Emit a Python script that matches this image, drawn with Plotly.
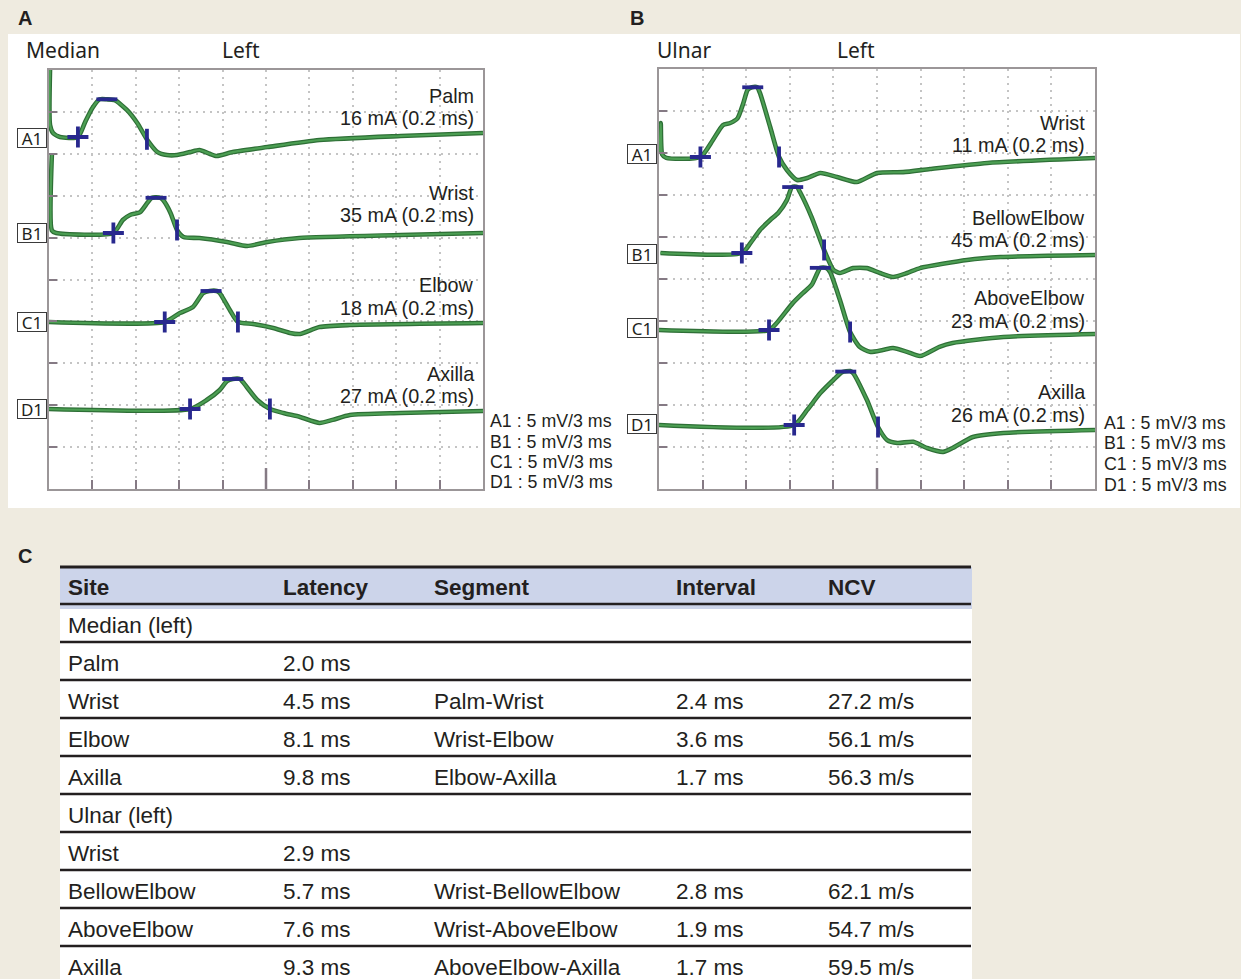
import numpy as np
import plotly.graph_objects as go

# ---------------------------------------------------------------- data
channels = ["A1", "B1", "C1", "D1"]

median_sites = ["Palm", "Wrist", "Elbow", "Axilla"]
median_stim = ["16 mA (0.2 ms)", "35 mA (0.2 ms)", "18 mA (0.2 ms)", "27 mA (0.2 ms)"]
ulnar_sites = ["Wrist", "BellowElbow", "AboveElbow", "Axilla"]
ulnar_stim = ["11 mA (0.2 ms)", "45 mA (0.2 ms)", "23 mA (0.2 ms)", "26 mA (0.2 ms)"]
scale_labels = ["A1 : 5 mV/3 ms", "B1 : 5 mV/3 ms", "C1 : 5 mV/3 ms", "D1 : 5 mV/3 ms"]

# time (ms) / amplitude relative to baseline (mV)
median_A1_t = [0.07, 0.07, 0.28, 0.76, 2.0, 2.5, 3.0, 3.5, 4.0, 4.55, 5.4, 6.1, 6.8, 7.5, 8.15,
               8.85, 9.75, 10.4, 11.1, 11.6, 12.7, 15.1, 18.7, 24.3, 30.0]
median_A1_v = [8.0, 1.43, 0.48, 0.0, 0.0, 1.8, 3.46, 4.5, 4.5, 4.4, 3.2, 1.67, -0.36, -1.8, -2.15,
               -2.15, -1.8, -1.55, -2.0, -2.27, -1.8, -1.2, -0.36, 0.12, 0.48]
median_B1_t = [0.2, 0.2, 0.5, 4.45, 5.1, 5.6, 6.3, 6.8, 7.1, 7.7, 7.9, 8.4, 8.85, 9.3, 10.4,
               12.3, 13.7, 15.1, 17.3, 24.3, 30.0]
median_B1_v = [9.5, 0.3, 0.0, 0.0, 1.55, 2.15, 2.5, 3.6, 4.2, 4.2, 3.9, 2.4, 0.36, -0.48, -0.6,
               -1.07, -1.55, -1.07, -0.6, -0.24, 0.0]
median_C1_t = [0.0, 8.0, 9.05, 9.95, 10.65, 11.1, 11.6, 11.8, 12.5, 13.06, 14.1, 15.5, 16.65,
               17.35, 18.7, 20.8, 30.0]
median_C1_v = [0.0, 0.0, 1.07, 1.8, 3.46, 3.7, 3.7, 3.46, 1.43, 0.0, -0.24, -0.72, -1.3,
               -1.43, -0.6, -0.36, -0.12]
median_D1_t = [0.0, 9.75, 10.9, 11.8, 12.3, 12.7, 13.2, 13.4, 14.4, 15.27, 16.2, 17.35, 18.7,
               19.6, 20.8, 24.3, 30.0]
median_D1_v = [0.0, 0.0, 1.07, 2.27, 3.34, 3.58, 3.58, 3.22, 1.07, 0.0, -0.48, -0.95, -1.67,
               -1.3, -0.72, -0.48, -0.24]

ulnar_A1_t = [0.05, 0.12, 0.22, 0.5, 2.85, 3.7, 4.4, 4.9, 5.4, 5.8, 6.1, 6.4, 6.75, 6.95, 7.65,
              8.26, 8.8, 9.5, 10.2, 11.1, 12.25, 13.6, 15.0, 16.8, 18.65, 22.6, 30.0]
ulnar_A1_v = [0.5, 4.05, 0.3, -0.1, 0.0, 2.0, 3.8, 4.05, 4.6, 6.4, 8.0, 8.3, 8.3, 7.6, 3.57,
              0.0, -1.55, -2.74, -2.5, -1.9, -2.38, -2.98, -1.9, -1.8, -1.43, -0.71, -0.12]
ulnar_B1_t = [0.1, 5.7, 6.3, 6.95, 7.65, 8.2, 8.8, 9.15, 9.5, 9.7, 10.5, 11.36, 12.0, 12.45,
              13.35, 14.3, 15.2, 16.1, 17.07, 17.96, 21.2, 23.5, 30.0]
ulnar_B1_v = [0.0, 0.0, 1.2, 2.74, 3.93, 4.76, 6.3, 7.85, 7.85, 7.26, 4.28, 0.36, -2.0, -2.38,
              -1.8, -1.8, -2.38, -2.86, -2.38, -1.8, -0.83, -0.48, -0.24]
ulnar_C1_t = [0.0, 7.57, 8.1, 9.2, 9.9, 10.5, 10.9, 11.1, 11.5, 11.77, 12.45, 13.15, 13.8, 14.5,
              15.4, 16.1, 17.07, 17.96, 19.3, 20.2, 23.7, 30.0]
ulnar_C1_v = [0.0, 0.0, 0.83, 3.2, 4.4, 5.36, 6.8, 7.4, 7.4, 6.9, 3.57, -0.24, -2.0, -2.6,
              -2.38, -2.14, -2.6, -3.1, -2.0, -1.55, -0.83, -0.48]
ulnar_D1_t = [0.0, 9.3, 10.2, 11.1, 12.0, 12.6, 13.15, 13.35, 14.3, 15.07, 15.7, 16.4, 17.5,
              18.45, 19.55, 20.2, 21.6, 23.7, 30.0]
ulnar_D1_v = [0.0, 0.0, 1.8, 3.8, 5.36, 6.3, 6.43, 6.2, 3.0, -0.24, -1.8, -2.14, -2.0,
              -2.74, -3.2, -2.74, -1.43, -0.95, -0.6]

# cursor marks (ms): onset (+), peak (-), end (|)
median_onset = [2.0, 4.45, 8.0, 9.75]
median_peak = [4.0, 7.4, 11.2, 12.7]
median_end = [6.77, 8.85, 13.06, 15.27]
ulnar_onset = [2.85, 5.7, 7.57, 9.3]
ulnar_peak = [6.45, 9.2, 11.1, 12.85]
ulnar_end = [8.26, 11.36, 13.15, 15.07]

# table
table_headers = ["Site", "Latency", "Segment", "Interval", "NCV"]
table_site = ["Median (left)", "Palm", "Wrist", "Elbow", "Axilla",
              "Ulnar (left)", "Wrist", "BellowElbow", "AboveElbow", "Axilla"]
table_latency = [None, 2.0, 4.5, 8.1, 9.8, None, 2.9, 5.7, 7.6, 9.3]
table_segment = ["", "", "Palm-Wrist", "Wrist-Elbow", "Elbow-Axilla",
                 "", "", "Wrist-BellowElbow", "Wrist-AboveElbow", "AboveElbow-Axilla"]
table_interval = [None, None, 2.4, 3.6, 1.7, None, None, 2.8, 1.9, 1.7]
table_ncv = [None, None, 27.2, 56.1, 56.3, None, None, 62.1, 54.7, 59.5]

# ---------------------------------------------------------------- layout helpers
W, H = 1241, 985


def fx(p):
    return p / W


def fy(p):
    return 1 - p / H


GREEN_DARK = "#2e6f36"
GREEN = "#4c9f53"
BLUE = "#28288e"
TXT = "#231f20"
FONT = "Noto Sans"
LAB_FONT = "Liberation Sans"

fig = go.Figure()

panels = [
    dict(xa="x", ya="y", left=49, right=483, top=70, bottom=489,
         waves=[(median_A1_t, median_A1_v), (median_B1_t, median_B1_v),
                (median_C1_t, median_C1_v), (median_D1_t, median_D1_v)],
         base_px=[137, 233, 322, 409], box_px=[138, 233, 322, 409], box_right=47,
         onset=median_onset, peak=median_peak, end=median_end,
         sites=median_sites, stim=median_stim,
         label_px=[107, 204, 296.5, 385], label_right=476,
         scale_left=488, scale_px=[421, 441.5, 462, 482.5],
         nerve="Median", nerve_x=24, left_x=220),
    dict(xa="x2", ya="y2", left=659, right=1095, top=69, bottom=489,
         waves=[(ulnar_A1_t, ulnar_A1_v), (ulnar_B1_t, ulnar_B1_v),
                (ulnar_C1_t, ulnar_C1_v), (ulnar_D1_t, ulnar_D1_v)],
         base_px=[157, 253, 330, 425], box_px=[154, 254, 328, 424], box_right=657,
         onset=ulnar_onset, peak=ulnar_peak, end=ulnar_end,
         sites=ulnar_sites, stim=ulnar_stim,
         label_px=[134, 229, 309.5, 403.5], label_right=1087,
         scale_left=1102, scale_px=[423, 443.5, 464, 484.5],
         nerve="Ulnar", nerve_x=655, left_x=835),
]

annotations = []
shapes = []

# white panel background
shapes.append(dict(type="rect", xref="paper", yref="paper", x0=fx(8), x1=fx(1240),
                   y0=fy(508), y1=fy(34), fillcolor="white", line=dict(width=0), layer="below"))

for P in panels:
    span = P["bottom"] - P["top"]
    for i, (t, v) in enumerate(P["waves"]):
        off = (P["bottom"] - P["base_px"][i]) / span * 50.0
        y = np.array(v) + off
        fig.add_trace(go.Scatter(x=t, y=y, mode="lines", xaxis=P["xa"], yaxis=P["ya"],
                                 line=dict(color=GREEN_DARK, width=4.6, shape="spline", smoothing=0.6),
                                 hoverinfo="skip", showlegend=False))
        fig.add_trace(go.Scatter(x=t, y=y, mode="lines", xaxis=P["xa"], yaxis=P["ya"],
                                 line=dict(color=GREEN, width=2.2, shape="spline", smoothing=0.6),
                                 hoverinfo="skip", showlegend=False))
        on, pk, en = P["onset"][i], P["peak"][i], P["end"][i]
        for tm, sym, sz in [(on, "cross-thin", 15), (pk, "line-ew", 15), (en, "line-ns", 15)]:
            fig.add_trace(go.Scatter(x=[tm], y=[np.interp(tm, t, v) + off], mode="markers",
                                     xaxis=P["xa"], yaxis=P["ya"],
                                     marker=dict(symbol=sym, size=sz, color=BLUE,
                                                 line=dict(color=BLUE, width=3.8)),
                                     hoverinfo="skip", showlegend=False))
        # channel box label
        annotations.append(dict(text=channels[i], xref="paper", yref="paper",
                                x=fx(P["box_right"]), y=fy(P["box_px"][i]), xanchor="right",
                                yanchor="middle", showarrow=False, width=28, height=18,
                                bordercolor="#3a3a3a", borderwidth=1, borderpad=0,
                                bgcolor="white", font=dict(family=FONT, size=17, color=TXT)))
        # site label and stimulus
        c = P["label_px"][i]
        for txt, yy in [(P["sites"][i], c - 11.3), (P["stim"][i], c + 11.3)]:
            annotations.append(dict(text=txt, xref="paper", yref="paper",
                                    x=fx(P["label_right"]), y=fy(yy), xanchor="right",
                                    yanchor="middle", showarrow=False,
                                    font=dict(family=LAB_FONT, size=19.8, color=TXT)))
        # scale line
        annotations.append(dict(text=scale_labels[i], xref="paper", yref="paper",
                                x=fx(P["scale_left"]), y=fy(P["scale_px"][i]), xanchor="left",
                                yanchor="middle", showarrow=False,
                                font=dict(family=LAB_FONT, size=17.8, color=TXT)))
    annotations.append(dict(text=P["nerve"], xref="paper", yref="paper", x=fx(P["nerve_x"]),
                            y=fy(50), xanchor="left", yanchor="middle", showarrow=False,
                            font=dict(family=FONT, size=21, color=TXT)))
    annotations.append(dict(text="Left", xref="paper", yref="paper", x=fx(P["left_x"]),
                            y=fy(50), xanchor="left", yanchor="middle", showarrow=False,
                            font=dict(family=FONT, size=21, color=TXT)))
    # longer centre tick on the time axis
    shapes.append(dict(type="line", xref=P["xa"], yref=P["ya"] + " domain", x0=15, x1=15,
                       y0=0, y1=0.05, line=dict(color="#857a84", width=2.5)))

for letter, x, y in [("A", 25, 18), ("B", 637, 18), ("C", 25, 556)]:
    annotations.append(dict(text="<b>%s</b>" % letter, xref="paper", yref="paper", x=fx(x),
                            y=fy(y), xanchor="center", yanchor="middle", showarrow=False,
                            font=dict(family="Liberation Sans", size=20, color=TXT)))

# ---------------------------------------------------------------- table


def fmt(vals, unit):
    return ["" if v is None else "%.1f %s" % (v, unit) for v in vals]


fig.add_trace(go.Table(
    domain=dict(x=[fx(60), fx(971)], y=[0, fy(567)]),
    columnwidth=[215, 151, 242, 152, 151],
    header=dict(values=["<b>%s</b>" % h for h in table_headers], fill_color="#CCD4EA",
                line=dict(color="#CCD4EA", width=1), align="left", height=37,
                font=dict(family="Liberation Sans", size=22.5, color=TXT)),
    cells=dict(values=[table_site, fmt(table_latency, "ms"), table_segment,
                       fmt(table_interval, "ms"), fmt(table_ncv, "m/s")],
               fill_color="white", line=dict(color="white", width=1), align="left", height=38,
               font=dict(family="Liberation Sans", size=22.5, color=TXT)),
))

row_lines = [567] + [604 + 38 * k for k in range(11)]
for k, yl in enumerate(row_lines):
    shapes.append(dict(type="line", xref="paper", yref="paper", x0=fx(60), x1=fx(971),
                       y0=fy(yl), y1=fy(yl), line=dict(color=TXT, width=3 if k == 0 else 2.5),
                       layer="above"))

# ---------------------------------------------------------------- axes
ax_x = dict(range=[0, 30], dtick=3, tick0=0, showgrid=True, gridcolor="#c4c4c4",
            griddash="2px,5px", gridwidth=1.5, zeroline=False, showline=True, mirror=True,
            linecolor="#9b9698", linewidth=2, ticks="inside", ticklen=9, tickwidth=2,
            tickcolor="#857a84", showticklabels=False, fixedrange=True)
ax_y = dict(range=[0, 50], dtick=5, tick0=0, showgrid=True, gridcolor="#c4c4c4",
            griddash="2px,5px", gridwidth=1.5, zeroline=False, showline=True, mirror=True,
            linecolor="#9b9698", linewidth=2, ticks="inside", ticklen=8, tickwidth=2,
            tickcolor="#857a84", showticklabels=False, fixedrange=True)

fig.update_layout(
    width=W, height=H, margin=dict(l=0, r=0, t=0, b=0),
    paper_bgcolor="#EFEBE0", plot_bgcolor="white", showlegend=False,
    xaxis=dict(domain=[fx(49), fx(483)], anchor="y", **ax_x),
    yaxis=dict(domain=[fy(489), fy(70)], anchor="x", **ax_y),
    xaxis2=dict(domain=[fx(659), fx(1095)], anchor="y2", **ax_x),
    yaxis2=dict(domain=[fy(489), fy(69)], anchor="x2", **ax_y),
    annotations=annotations, shapes=shapes,
)

fig.write_html("out.html", config={"displayModeBar": False},
               post_script="document.body.style.margin='0';document.body.style.overflow='hidden';")
